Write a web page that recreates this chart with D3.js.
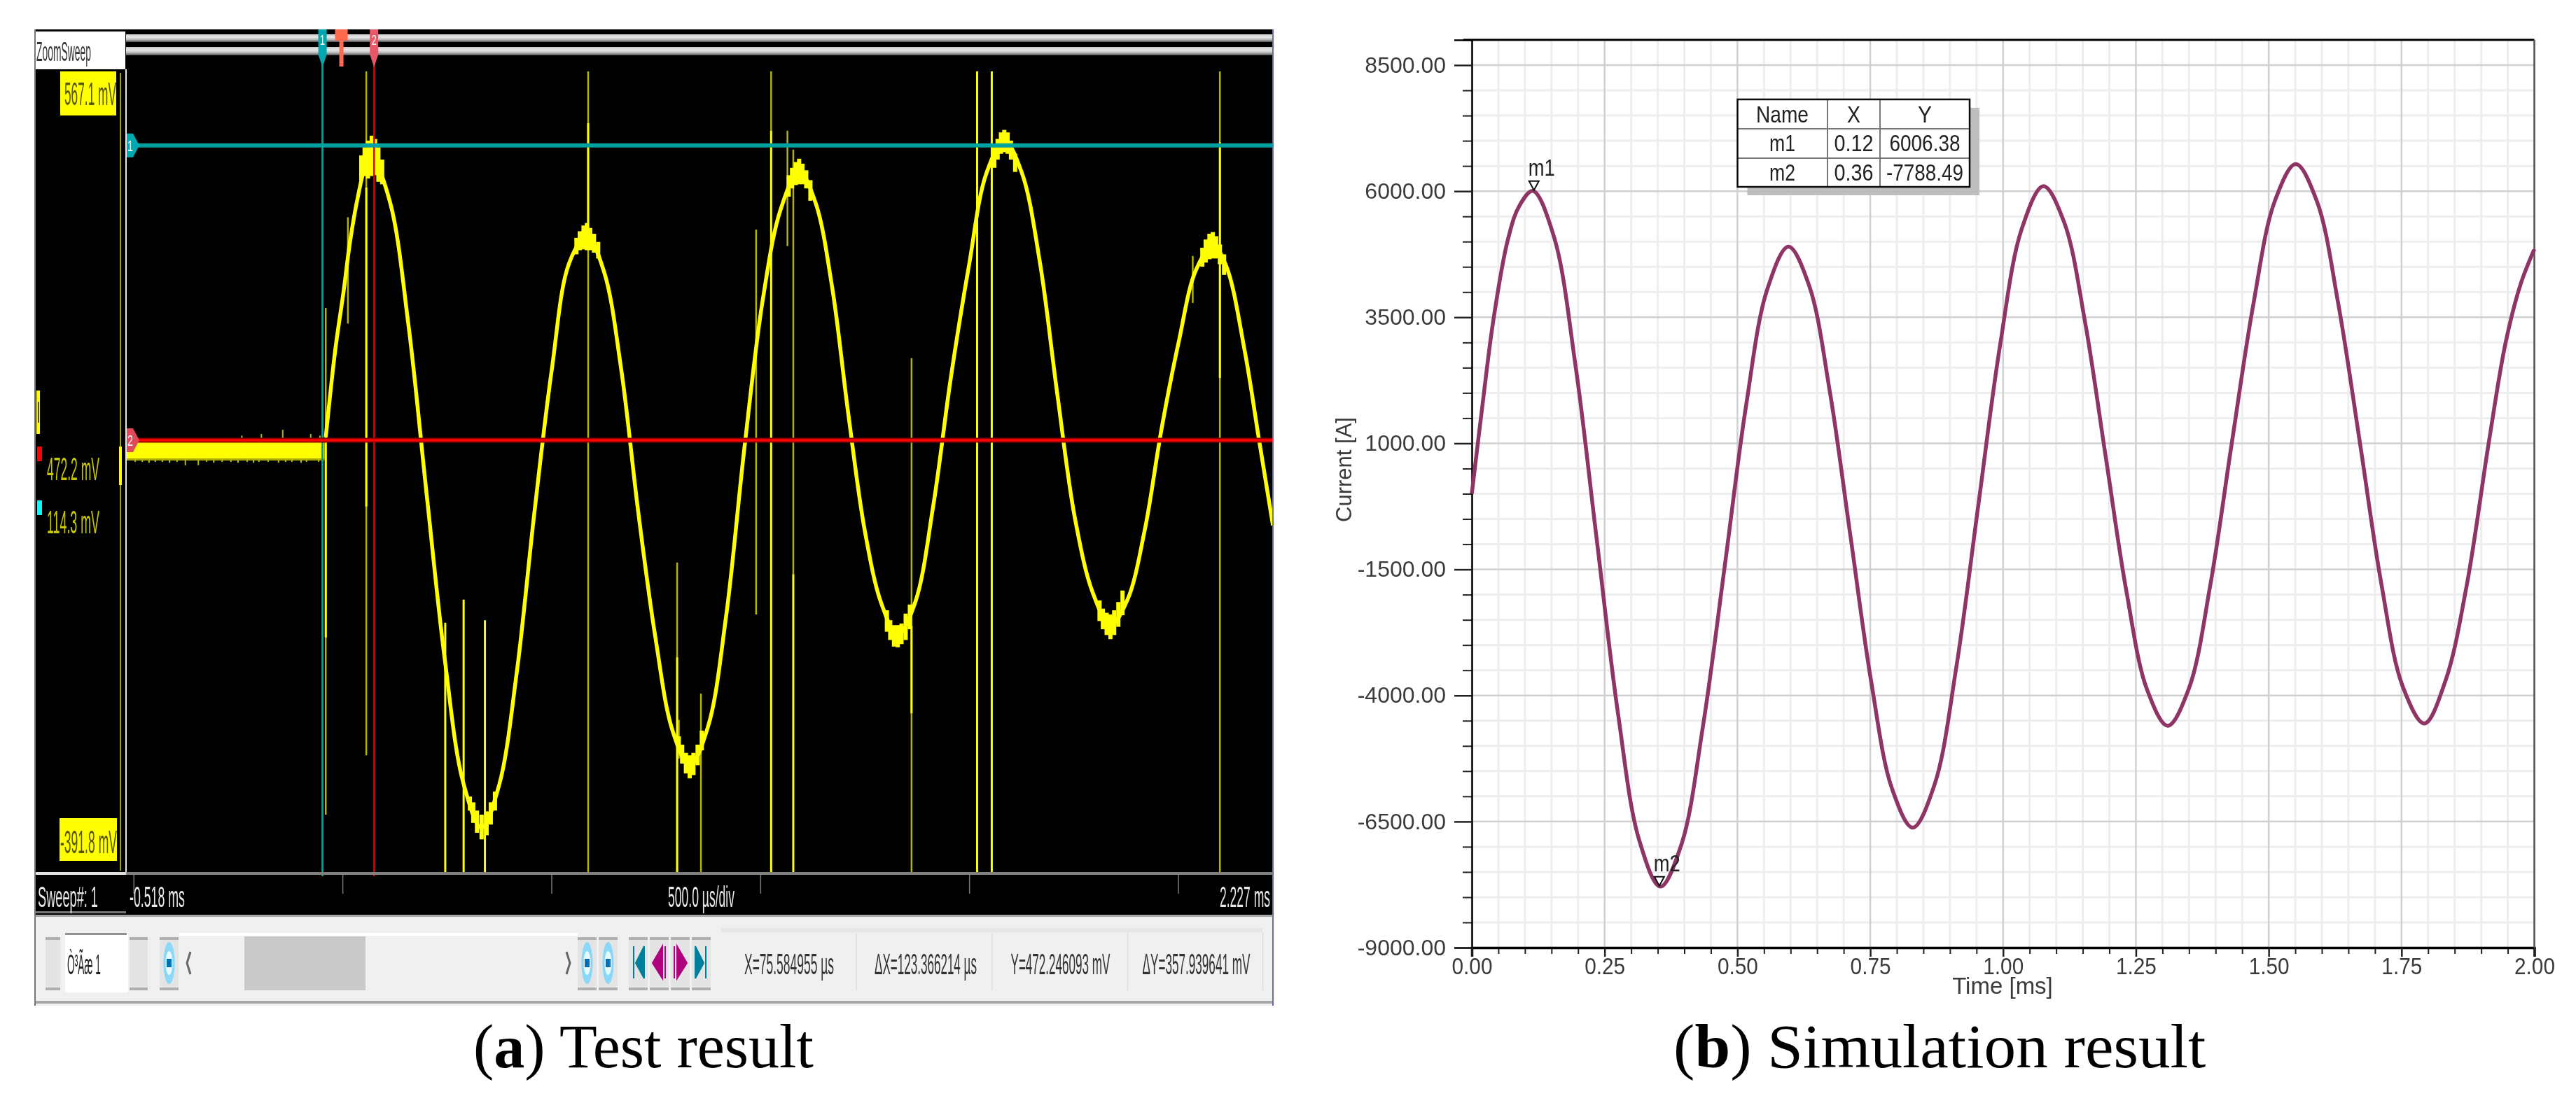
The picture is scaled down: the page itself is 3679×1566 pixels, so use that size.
<!DOCTYPE html>
<html>
<head>
<meta charset="utf-8">
<script src="https://d3js.org/d3.v7.min.js"></script>
<style>
  body { margin: 0; background: #fff; }
  text { font-family: "Liberation Sans", Arial, sans-serif; }
  .cap { font-family: "Liberation Serif", "Times New Roman", serif; font-size: 88px; fill: #000; }
</style>
</head>
<body>
<div id="chart"></div>
<script>
// (a) scope trace, time in us, level in mV
const traceT = [-40,-17,3,18,37,55,70,114,158,201,245,289,333,375,417,459,501,543,585,626,667,708,749,790,831,875,918,962,1006,1049,1093,1132,1172,1211,1250,1290,1329,1371,1414,1456,1499,1541,1584,1626,1669,1711,1753,1796,1838,1879,1920,1961,2002,2042,2083,2115,2159,2194,2227];
const traceV = [118,225,296,355,410,447,458,403,254,51,-152,-301,-356,-304,-168,25,200,330,362,319,201,27,-125,-238,-281,-233,-100,105,285,395,441,403,300,145,5,-84,-122,-82,35,190,325,438,478,439,331,170,20,-71,-110,-79,5,130,235,320,351,326,224,114,11];

// noisy spans around each peak and trough
const fuzzT = [45,53,61,70,78,86,95, 560,568,577,585,593,602,612, 1068,1076,1085,1093,1101,1110,1120, 1560,1568,1576,1584,1592,1600,1610, 2058,2066,2075,2083,2091,2100,2110, 305,313,322,333,345,355,365, 805,813,822,831,840,850,860, 1303,1311,1320,1329,1338,1348,1358, 1812,1820,1829,1838,1847,1857,1867];
const fuzzLo = [430,435,432,435,436,428,425, 340,345,346,345,345,342,335, 410,420,424,425,425,420,405, 445,455,462,464,462,455,440, 325,330,334,335,335,328,315, -335,-350,-362,-370,-365,-352,-335, -262,-278,-290,-296,-292,-280,-262, -118,-128,-136,-137,-133,-128,-115, -105,-115,-122,-127,-122,-112,-98];
const fuzzHi = [460,470,478,484,480,470,455, 360,368,375,378,372,365,355, 436,445,452,456,450,442,430, 470,480,488,491,488,478,462, 348,358,365,367,362,352,340, -318,-325,-335,-340,-336,-325,-312, -245,-255,-265,-268,-265,-255,-238, -92,-104,-110,-110,-108,-96,-85, -80,-90,-95,-97,-92,-82,-68];

// baseline before the pulse
const flatT = [-518,-43];
const flatHi = [114,114];
const flatLo = [92,92];
const noiseLowT = [-496,-479,-463,-448,-431,-414,-396,-376,-345,-325,-308,-288,-267,-250,-228,-213,-200,-178,-153,-136,-121,-99,-86,-57];
const noiseLowV = [88,88,87,88,88,87,88,84,84,88,87,88,88,87,88,87,88,88,87,88,88,87,88,88];
const noiseHighT = [-241,-194,-143,-76,-54];
const noiseHighV = [120,122,127,122,120];

// interference spikes
const dimSpikeT = [-40,13,57,588,801,805,858,990,1026,1065,1079,1362,2100,2035];
const dimSpikeHi = [275,385,562,562,-34,-225,-193,370,562,490,467,214,562,338];
const dimSpikeLo = [-340,256,-268,-410,-410,-272,-410,-97,490,350,-48,-410,-410,281];
const brightSpikeT = [-40,57,246,290,341,588,801,1026,1079,1362,1519,1554,2100];
const brightSpikeHi = [118,421,-107,-79,-104,499,-149,490,-48,-111,562,562,476];
const brightSpikeLo = [-125,34,-410,-410,-410,364,-410,-410,-410,-217,-410,-410,190];

const cursorsT = [-47.78, 75.58];
const cursorsV = [472.246, 114.308];
const divTicks = [-500,0,500,1000,1500,2000];
const timeRange = [-518, 2227];
const levelRange = [-391.8, 567.1];
const readouts = ['X=75.584955 µs', 'ΔX=123.366214 µs', 'Y=472.246093 mV', 'ΔY=357.939641 mV'];

// (b) simulated current, time in ms, current in A
const simT = [0,0.02,0.04,0.067,0.089,0.115,0.155,0.195,0.235,0.275,0.315,0.355,0.395,0.435,0.476,0.516,0.556,0.596,0.635,0.674,0.713,0.752,0.791,0.83,0.871,0.912,0.953,0.994,1.035,1.076,1.115,1.154,1.193,1.232,1.271,1.31,1.35,1.39,1.43,1.471,1.511,1.551,1.591,1.631,1.672,1.712,1.752,1.793,1.833,1.873,1.914,1.946,1.974,2];
const simV = [0,1750,3400,5000,5700,6006,5082,2557,-892,-4341,-6865,-7790,-6940,-4617,-1445,1728,4050,4900,4128,2020,-860,-3740,-5848,-6620,-5768,-3440,-260,2920,5248,6100,5383,3425,750,-1925,-3883,-4600,-3854,-1816,968,3751,5789,6535,5792,3763,990,-1783,-3812,-4555,-3700,-1800,1000,3000,4150,4850];
const simYTicks = [8500,6000,3500,1000,-1500,-4000,-6500,-9000];
const simYMinor = [8000,7500,7000,6500,5500,5000,4500,4000,3000,2500,2000,1500,500,0,-500,-1000,-2000,-2500,-3000,-3500,-4500,-5000,-5500,-6000,-7000,-7500,-8000,-8500];
const simXTicks = [0,0.25,0.5,0.75,1,1.25,1.5,1.75,2];
const simXMinor = [0.05,0.1,0.15,0.2,0.3,0.35,0.4,0.45,0.55,0.6,0.65,0.7,0.8,0.85,0.9,0.95,1.05,1.1,1.15,1.2,1.3,1.35,1.4,1.45,1.55,1.6,1.65,1.7,1.8,1.85,1.9,1.95];
const markerNames = ['m1', 'm2'];
const markerT = [0.117, 0.353];
const markerV = [6006.38, -7788.49];
const tableHead = ['Name', 'X', 'Y'];
const tableRows = [['m1', '0.12', '6006.38'], ['m2', '0.36', '-7788.49']];

const svg = d3.select('#chart').append('svg')
  .attr('width', 3679)
  .attr('height', 1566)
  .style('display', 'block');

const defs = svg.append('defs');
const soft = defs.append('filter').attr('id', 'soft');
soft.append('feGaussianBlur').attr('stdDeviation', 0.7);
const chrome = defs.append('linearGradient').attr('id', 'chromeBand')
  .attr('x1', 0).attr('x2', 0).attr('y1', 0).attr('y2', 1);
[[0, '#c8c8c8'], [0.35, '#e8e8e8'], [0.7, '#b8b8b8'], [1, '#505050']].forEach(s => {
  chrome.append('stop').attr('offset', s[0]).attr('stop-color', s[1]);
});

// squeezed screen text, the grabbed image is narrow
function label(g, x, y, str, size, len, fill, anchor) {
  const t = g.append('text')
    .attr('font-size', size)
    .attr('text-anchor', anchor || 'start')
    .attr('fill', fill)
    .text(str);
  const sx = len / t.node().getComputedTextLength();
  return t.attr('transform', 'translate(' + x + ',' + y + ') scale(' + sx + ',1)');
}

function drawScope() {
  const x = d3.scaleLinear().domain(timeRange).range([180, 1818]);
  const y = d3.scaleLinear().domain(levelRange).range([1225, 96]);
  const g = svg.append('g').attr('filter', 'url(#soft)');

  // window background
  g.append('rect').attr('x', 50).attr('y', 42).attr('width', 1768).attr('height', 1265).attr('fill', '#000');
  g.append('rect').attr('x', 180).attr('y', 49).attr('width', 1638).attr('height', 11).attr('fill', 'url(#chromeBand)');
  g.append('rect').attr('x', 180).attr('y', 67).attr('width', 1638).attr('height', 12).attr('fill', 'url(#chromeBand)');
  g.append('rect').attr('x', 51).attr('y', 45).attr('width', 128).attr('height', 54).attr('fill', '#fff');
  label(g, 52, 87, 'ZoomSweep', 38, 78, '#333');

  // flat part before the pulse
  const flat = flatT.map((t, i) => ({ t: t, hi: flatHi[i], lo: flatLo[i] }));
  g.append('path')
    .attr('d', d3.area().x(d => x(d.t)).y0(d => y(d.lo)).y1(d => y(d.hi))(flat))
    .attr('fill', '#ffff00');
  g.append('line')
    .attr('x1', x(flatT[0])).attr('x2', x(flatT[1]))
    .attr('y1', y(flatLo[0]) + 1).attr('y2', y(flatLo[0]) + 1)
    .attr('stroke', '#a8a800').attr('stroke-width', 3);
  g.selectAll('.nlow').data(noiseLowT).join('line').attr('class', 'nlow')
    .attr('x1', d => x(d)).attr('x2', d => x(d))
    .attr('y1', y(flatLo[0])).attr('y2', (d, i) => y(noiseLowV[i]))
    .attr('stroke', '#b8b800').attr('stroke-width', 2);
  g.selectAll('.nhigh').data(noiseHighT).join('line').attr('class', 'nhigh')
    .attr('x1', d => x(d)).attr('x2', d => x(d))
    .attr('y1', y(flatHi[0])).attr('y2', (d, i) => y(noiseHighV[i]))
    .attr('stroke', '#b8b800').attr('stroke-width', 2);

  // spikes
  g.selectAll('.dim').data(dimSpikeT).join('line').attr('class', 'dim')
    .attr('x1', d => x(d)).attr('x2', d => x(d))
    .attr('y1', (d, i) => y(dimSpikeHi[i])).attr('y2', (d, i) => y(dimSpikeLo[i]))
    .attr('stroke', '#b4b400').attr('stroke-width', 2.5);
  g.selectAll('.bright').data(brightSpikeT).join('line').attr('class', 'bright')
    .attr('x1', d => x(d)).attr('x2', d => x(d))
    .attr('y1', (d, i) => y(brightSpikeHi[i])).attr('y2', (d, i) => y(brightSpikeLo[i]))
    .attr('stroke', '#ffff00').attr('stroke-width', 3);

  // trace
  const trace = traceT.map((t, i) => ({ t: t, v: traceV[i] }));
  const line = d3.line().x(d => x(d.t)).y(d => y(d.v)).curve(d3.curveCatmullRom.alpha(0.5));
  g.append('path').attr('d', line(trace))
    .attr('fill', 'none').attr('stroke', '#ffff00').attr('stroke-width', 5.5);
  g.selectAll('.fuzz').data(fuzzT).join('line').attr('class', 'fuzz')
    .attr('x1', d => x(d)).attr('x2', d => x(d))
    .attr('y1', (d, i) => y(fuzzHi[i])).attr('y2', (d, i) => y(fuzzLo[i]))
    .attr('stroke', '#ffff00').attr('stroke-width', 6);

  // cursors
  g.append('line').attr('x1', x(cursorsT[0])).attr('x2', x(cursorsT[0])).attr('y1', 90).attr('y2', 1252)
    .attr('stroke', '#009c9c').attr('stroke-width', 3);
  g.append('line').attr('x1', x(cursorsT[1])).attr('x2', x(cursorsT[1])).attr('y1', 90).attr('y2', 1252)
    .attr('stroke', '#d80000').attr('stroke-width', 2.5);
  g.append('line').attr('x1', 190).attr('x2', 1818).attr('y1', y(cursorsV[0])).attr('y2', y(cursorsV[0]))
    .attr('stroke', '#00a0a0').attr('stroke-width', 6);
  g.append('line').attr('x1', 190).attr('x2', 1818).attr('y1', y(cursorsV[1])).attr('y2', y(cursorsV[1]))
    .attr('stroke', '#8a0000').attr('stroke-width', 7);
  g.append('line').attr('x1', 190).attr('x2', 1818).attr('y1', y(cursorsV[1])).attr('y2', y(cursorsV[1]))
    .attr('stroke', '#ff0000').attr('stroke-width', 3.5);

  // cursor flags, top and left
  const flagTop = (cx, fill, name) => {
    g.append('path')
      .attr('d', 'M' + (cx - 6) + ',42H' + (cx + 6) + 'V78L' + cx + ',96L' + (cx - 6) + ',78Z')
      .attr('fill', fill);
    label(g, cx, 64, name, 20, 7, '#fff', 'middle');
  };
  flagTop(x(cursorsT[0]), '#00a8b0', '1');
  flagTop(x(cursorsT[1]), '#e85868', '2');
  const orangeX = x(cursorsT[0]) + 27;
  g.append('path')
    .attr('d', 'M' + (orangeX - 9) + ',42H' + (orangeX + 9) + 'V58H' + (orangeX + 3) + 'V95H' + (orangeX - 3) + 'V58H' + (orangeX - 9) + 'Z')
    .attr('fill', '#ff6a50');
  const flagLeft = (cy, fill, name) => {
    g.append('path')
      .attr('d', 'M181,' + (cy - 17) + 'H190L199,' + cy + 'L190,' + (cy + 17) + 'H181Z')
      .attr('fill', fill);
    label(g, 186, cy + 8, name, 22, 8, '#fff', 'middle');
  };
  flagLeft(y(cursorsV[0]), '#00a8b0', '1');
  flagLeft(y(cursorsV[1]), '#e04858', '2');

  // left strip
  g.append('line').attr('x1', 180).attr('x2', 180).attr('y1', 99).attr('y2', 1247).attr('stroke', '#e8e8e8').attr('stroke-width', 2);
  g.append('line').attr('x1', 172).attr('x2', 172).attr('y1', 104).attr('y2', 1244).attr('stroke', '#a0a000').attr('stroke-width', 2);
  g.append('rect').attr('x', 170).attr('y', 638).attr('width', 4).attr('height', 55).attr('fill', '#ffff00');
  g.append('rect').attr('x', 86).attr('y', 102).attr('width', 80).attr('height', 63).attr('fill', '#ffff00');
  label(g, 92, 150, '567.1 mV', 46, 74, '#555500');
  g.append('rect').attr('x', 85).attr('y', 1169).attr('width', 82).attr('height', 61).attr('fill', '#ffff00');
  label(g, 86, 1219, '-391.8 mV', 46, 81, '#555500');
  g.append('rect').attr('x', 52).attr('y', 558).attr('width', 5).attr('height', 62).attr('fill', '#ffff00');
  g.append('rect').attr('x', 54).attr('y', 574).attr('width', 2).attr('height', 30).attr('fill', '#555500');
  g.append('rect').attr('x', 53).attr('y', 638).attr('width', 7).attr('height', 21).attr('fill', '#ff0000');
  g.append('rect').attr('x', 53).attr('y', 715).attr('width', 7).attr('height', 21).attr('fill', '#00ffff');
  label(g, 67, 686, cursorsV[0].toFixed(1) + ' mV', 46, 75, '#c8c800');
  label(g, 67, 762, cursorsV[1].toFixed(1) + ' mV', 46, 75, '#c8c800');

  // bottom strip
  g.append('rect').attr('x', 180).attr('y', 1246).attr('width', 1638).attr('height', 4).attr('fill', '#808080');
  g.append('rect').attr('x', 50).attr('y', 1246).attr('width', 130).attr('height', 4).attr('fill', '#e0e0e0');
  g.append('rect').attr('x', 50).attr('y', 1302).attr('width', 130).attr('height', 3).attr('fill', '#777');
  const divs = d3.axisBottom(x).tickValues(divTicks).tickSize(27).tickFormat('');
  const axis = g.append('g').attr('transform', 'translate(0,1250)').call(divs);
  axis.select('.domain').remove();
  axis.selectAll('line').attr('stroke', '#777').attr('stroke-width', 1.5);
  axis.selectAll('text').remove();
  label(g, 54, 1296, 'Sweep#: 1', 42, 86, '#e8e8e8');
  label(g, 185, 1296, '-0.518 ms', 42, 79, '#e8e8e8');
  label(g, 954, 1296, '500.0 µs/div', 42, 95, '#e8e8e8');
  label(g, 1742, 1296, '2.227 ms', 42, 72, '#e8e8e8');

  // toolbar
  g.append('rect').attr('x', 50).attr('y', 1307).attr('width', 1768).attr('height', 130).attr('fill', '#f0f0f0');
  g.append('rect').attr('x', 50).attr('y', 1430).attr('width', 1768).attr('height', 4).attr('fill', '#a8a8a8');
  g.append('rect').attr('x', 50).attr('y', 1307).attr('width', 1768).attr('height', 3).attr('fill', '#a8a8a8');
  g.append('rect').attr('x', 256).attr('y', 1333).attr('width', 569).attr('height', 4).attr('fill', '#fff');
  const btn = (bx, bw) => {
    g.append('rect').attr('x', bx).attr('y', 1339).attr('width', bw).attr('height', 76).attr('fill', '#e4e4e4');
    g.append('rect').attr('x', bx).attr('y', 1339).attr('width', bw).attr('height', 4).attr('fill', '#b0b0b0');
    g.append('rect').attr('x', bx).attr('y', 1411).attr('width', bw).attr('height', 4).attr('fill', '#b0b0b0');
  };
  btn(65, 21);
  btn(185, 26);
  g.append('rect').attr('x', 93).attr('y', 1333).attr('width', 90).attr('height', 85).attr('fill', '#fff');
  g.append('rect').attr('x', 93).attr('y', 1333).attr('width', 88).attr('height', 3).attr('fill', '#909090');
  label(g, 96, 1392, 'Ò³Ãæ 1', 40, 48, '#222');
  g.append('rect').attr('x', 349).attr('y', 1338).attr('width', 173).attr('height', 77).attr('fill', '#c9c9c9');
  [228, 825, 855].forEach(bx => {
    btn(bx, 27);
    g.append('ellipse').attr('cx', bx + 13.5).attr('cy', 1376).attr('rx', 8).attr('ry', 30).attr('fill', '#8ad8f8');
    g.append('ellipse').attr('cx', bx + 13.5).attr('cy', 1376).attr('rx', 5).attr('ry', 17).attr('fill', '#e8f8ff');
    g.append('rect').attr('x', bx + 10).attr('y', 1370).attr('width', 7).attr('height', 12).attr('fill', '#0070b0');
  });
  g.append('path').attr('d', 'M272,1360L267,1376L272,1392').attr('fill', 'none').attr('stroke', '#666').attr('stroke-width', 3);
  g.append('path').attr('d', 'M809,1360L814,1376L809,1392').attr('fill', 'none').attr('stroke', '#666').attr('stroke-width', 3);
  [[898, '#007f9c', 'M905,1352V1398M920,1352L908,1376L920,1398Z'],
    [928, '#b0007f', 'M950,1352V1398M946,1352L932,1376L946,1398Z'],
    [958, '#b0007f', 'M963,1352V1398M967,1352L981,1376L967,1398Z'],
    [988, '#007f9c', 'M1008,1352V1398M993,1352L1005,1376L993,1398Z']].forEach(b => {
    btn(b[0], 27);
    g.append('path').attr('d', b[2]).attr('fill', b[1]).attr('stroke', b[1]).attr('stroke-width', 2);
  });
  g.append('rect').attr('x', 1030).attr('y', 1326).attr('width', 773).attr('height', 6).attr('fill', '#e6e6e6');
  [1223, 1417, 1610.5, 1803.5].forEach(sx => {
    g.append('line').attr('x1', sx).attr('x2', sx).attr('y1', 1333).attr('y2', 1415).attr('stroke', '#dcdcdc').attr('stroke-width', 1.5);
  });
  const readoutX = [1063, 1249, 1443.5, 1631.5];
  const readoutW = [128, 146, 142, 154];
  readouts.forEach((r, i) => label(g, readoutX[i], 1392, r, 42, readoutW[i], '#333'));

  // window edges
  g.append('line').attr('x1', 50).attr('x2', 50).attr('y1', 42).attr('y2', 1437).attr('stroke', '#777').attr('stroke-width', 2);
  g.append('line').attr('x1', 1818).attr('x2', 1818).attr('y1', 42).attr('y2', 1437).attr('stroke', '#6a6ac8').attr('stroke-width', 2);
}

function drawSim() {
  const x = d3.scaleLinear().domain([0, 2]).range([2102, 3619.5]);
  const y = d3.scaleLinear().domain([-9000, 9000]).range([1354, 57]);
  const g = svg.append('g').attr('filter', 'url(#soft)');

  // grid
  g.selectAll('.hminor').data(simYMinor).join('line').attr('class', 'hminor')
    .attr('x1', x(0)).attr('x2', x(2)).attr('y1', d => y(d)).attr('y2', d => y(d))
    .attr('stroke', '#eeeeee').attr('stroke-width', 3);
  g.selectAll('.vminor').data(simXMinor).join('line').attr('class', 'vminor')
    .attr('x1', d => x(d)).attr('x2', d => x(d)).attr('y1', y(9000)).attr('y2', y(-9000))
    .attr('stroke', '#eeeeee').attr('stroke-width', 3);
  g.selectAll('.hmajor').data(simYTicks).join('line').attr('class', 'hmajor')
    .attr('x1', x(0)).attr('x2', x(2)).attr('y1', d => y(d)).attr('y2', d => y(d))
    .attr('stroke', '#d0d0d0').attr('stroke-width', 2.5);
  g.selectAll('.vmajor').data(simXTicks).join('line').attr('class', 'vmajor')
    .attr('x1', d => x(d)).attr('x2', d => x(d)).attr('y1', y(9000)).attr('y2', y(-9000))
    .attr('stroke', '#d0d0d0').attr('stroke-width', 2.5);

  // axes
  const minorY = d3.axisLeft(y).tickValues(simYMinor).tickSize(13).tickFormat('');
  const minorYAxis = g.append('g').attr('transform', 'translate(' + x(0) + ',0)').call(minorY);
  minorYAxis.selectAll('line').attr('stroke', '#222').attr('stroke-width', 2);
  minorYAxis.selectAll('text').remove();
  const majorY = d3.axisLeft(y).tickValues(simYTicks).tickSize(25).tickPadding(12).tickFormat(d => d.toFixed(2));
  const yAxis = g.append('g').attr('transform', 'translate(' + x(0) + ',0)').call(majorY);
  yAxis.selectAll('line').attr('stroke', '#222').attr('stroke-width', 2.5);
  yAxis.selectAll('text').attr('font-size', 32).attr('fill', '#3a3a3a')
    .attr('font-family', '"Liberation Sans", Arial, sans-serif');
  yAxis.select('.domain').attr('stroke', '#000').attr('stroke-width', 2.5);

  const minorX = d3.axisBottom(x).tickValues(simXMinor).tickSize(9).tickFormat('');
  const minorXAxis = g.append('g').attr('transform', 'translate(0,' + y(-9000) + ')').call(minorX);
  minorXAxis.selectAll('line').attr('stroke', '#222').attr('stroke-width', 2);
  minorXAxis.selectAll('text').remove();
  const majorX = d3.axisBottom(x).tickValues(simXTicks).tickSize(13).tickPadding(2).tickFormat(d => d.toFixed(2));
  const xAxis = g.append('g').attr('transform', 'translate(0,' + y(-9000) + ')').call(majorX);
  xAxis.selectAll('line').attr('stroke', '#222').attr('stroke-width', 2.5);
  xAxis.selectAll('text').attr('font-size', 33).attr('fill', '#3a3a3a')
    .attr('textLength', 58).attr('lengthAdjust', 'spacingAndGlyphs')
    .attr('font-family', '"Liberation Sans", Arial, sans-serif');
  xAxis.select('.domain').attr('stroke', '#000').attr('stroke-width', 3.5);

  g.append('line').attr('x1', x(0) - 12).attr('x2', x(2)).attr('y1', y(9000)).attr('y2', y(9000))
    .attr('stroke', '#000').attr('stroke-width', 3);
  g.append('line').attr('x1', x(2)).attr('x2', x(2)).attr('y1', y(9000)).attr('y2', y(-9000))
    .attr('stroke', '#555').attr('stroke-width', 2.5);

  g.append('text').attr('x', 2860).attr('y', 1420).attr('text-anchor', 'middle')
    .attr('font-size', 33).attr('fill', '#3a3a3a').text('Time [ms]');
  g.append('text').attr('transform', 'translate(1930,671) rotate(-90)').attr('text-anchor', 'middle')
    .attr('font-size', 31).attr('fill', '#3a3a3a').text('Current [A]');

  // curve
  const sim = simT.map((t, i) => ({ t: t, v: simV[i] }));
  g.append('path')
    .attr('d', d3.line().x(d => x(d.t)).y(d => y(d.v)).curve(d3.curveCatmullRom.alpha(0.5))(sim))
    .attr('fill', 'none').attr('stroke', '#8f3566').attr('stroke-width', 5.5);

  // markers
  markerNames.forEach((name, i) => {
    const mx = x(markerT[i]);
    const my = y(markerV[i]);
    g.append('path')
      .attr('d', 'M' + mx + ',' + (my - 1) + 'L' + (mx - 7) + ',' + (my - 14) + 'H' + (mx + 7) + 'Z')
      .attr('fill', '#fff').attr('stroke', '#111').attr('stroke-width', 2);
    label(g, mx - 8, my - 22, name, 33, 38, '#222');
  });

  // marker table
  const colX = [2481.5, 2610, 2685, 2813];
  const rowY = [142, 184, 226, 267];
  g.append('rect').attr('x', colX[0] + 14).attr('y', rowY[0] + 12).attr('width', colX[3] - colX[0]).attr('height', rowY[3] - rowY[0]).attr('fill', '#bdbdbd');
  g.append('rect').attr('x', colX[0]).attr('y', rowY[0]).attr('width', colX[3] - colX[0]).attr('height', rowY[3] - rowY[0]).attr('fill', '#fff');
  [rowY[1], rowY[2]].forEach(ry => {
    g.append('line').attr('x1', colX[0]).attr('x2', colX[3]).attr('y1', ry).attr('y2', ry).attr('stroke', '#777').attr('stroke-width', 2);
  });
  [colX[1], colX[2]].forEach(cx => {
    g.append('line').attr('x1', cx).attr('x2', cx).attr('y1', rowY[0]).attr('y2', rowY[3]).attr('stroke', '#777').attr('stroke-width', 2);
  });
  g.append('rect').attr('x', colX[0]).attr('y', rowY[0]).attr('width', colX[3] - colX[0]).attr('height', rowY[3] - rowY[0])
    .attr('fill', 'none').attr('stroke', '#111').attr('stroke-width', 2.5);
  const cellMid = [2545.5, 2647.5, 2749];
  const headLen = [75, 19, 20];
  const rowLen = [[37, 56, 101], [37, 56, 110]];
  tableHead.forEach((h, c) => label(g, cellMid[c], 175, h, 33, headLen[c], '#222', 'middle'));
  tableRows.forEach((row, r) => {
    row.forEach((cell, c) => label(g, cellMid[c], 216 + r * 42, cell, 33, rowLen[r][c], '#222', 'middle'));
  });
}

drawScope();
drawSim();

// captions
const capA = svg.append('text').attr('class', 'cap').attr('x', 676).attr('y', 1525);
capA.append('tspan').text('(');
capA.append('tspan').attr('font-weight', 'bold').text('a');
capA.append('tspan').text(') Test result');
const capB = svg.append('text').attr('class', 'cap').attr('transform', 'translate(2390,1525) scale(1.037,1)');
capB.append('tspan').text('(');
capB.append('tspan').attr('font-weight', 'bold').text('b');
capB.append('tspan').text(') Simulation result');
</script>
</body>
</html>
